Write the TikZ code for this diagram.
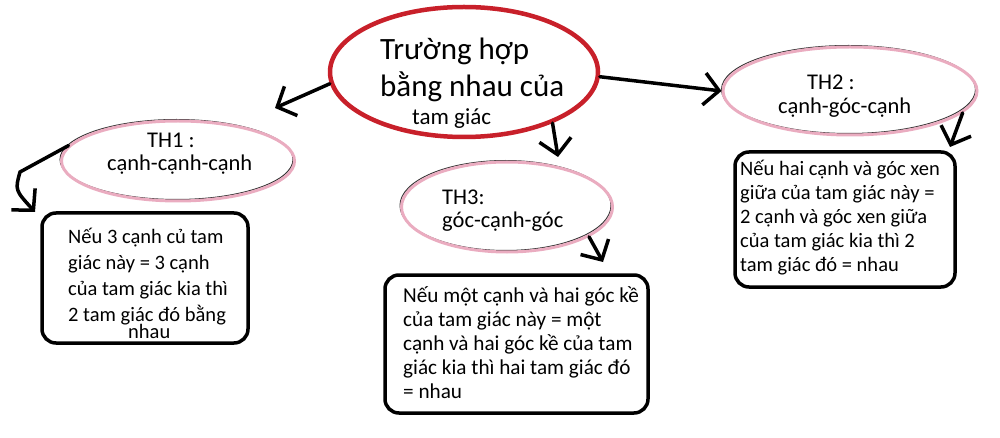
\documentclass[tikz,border=0pt]{standalone}
\usepackage{fontspec}
\setmainfont{Carlito}
\usetikzlibrary{arrows.meta,shapes.geometric}

\definecolor{mainred}{RGB}{200,32,42}
\definecolor{casepink}{RGB}{234,172,192}

\begin{document}
\begin{tikzpicture}[x=1pt,y=-1pt,line cap=round,
  arr/.style={line width=3.5pt,-{Straight Barb[length=15pt,width=32pt]}},
  oval/.style={ellipse,draw=casepink,line width=3pt,inner sep=0pt,
    preaction={draw=black!80,line width=1pt,transform canvas={shift={(-1.5pt,1.5pt)}}}},
  card/.style={draw,line width=3.5pt,rounded corners=14pt,inner sep=0pt},
  big/.style={font=\fontsize{31}{37}\selectfont,align=left,anchor=base west,inner sep=0pt},
  mid/.style={font=\fontsize{22.5}{27}\selectfont,anchor=base west,inner sep=0pt},
  small/.style={font=\fontsize{20.5}{24}\selectfont,align=left,anchor=base west,inner sep=0pt}]

  \useasboundingbox (0,0) rectangle (1000,438);

  % ovals
  \node[ellipse,draw=mainred,line width=4.5pt,minimum width=268pt,minimum height=130pt] (M) at (464,72) {};
  \node[oval,minimum width=233pt,minimum height=80pt] (T1) at (178,161) {};
  \node[oval,minimum width=254pt,minimum height=88pt] (T2) at (850,91) {};
  \node[oval,minimum width=211pt,minimum height=90pt] (T3) at (507,207) {};

  % cards
  \node[card,minimum width=206pt,minimum height=130pt] (B1) at (145,278) {};
  \node[card,minimum width=220pt,minimum height=135pt] (B2) at (845,219.5) {};
  \node[card,minimum width=263pt,minimum height=138pt] (B3) at (516.5,344) {};

  % texts (base = last line)
  \node[big] (M1) at (380,97) {Trường hợp\\bằng nhau của};
  \node[mid,font=\fontsize{23}{27}\selectfont] (M2) at (412,125) {tam giác};
  \node[mid] (T1a) at (147,148) {TH1 :};
  \node[mid] (T1b) at (107,171) {cạnh-cạnh-cạnh};
  \node[mid] (T2a) at (807,90) {TH2 :};
  \node[mid] (T2b) at (778,114) {cạnh-góc-cạnh};
  \node[mid] (T3a) at (442,205) {TH3:};
  \node[mid] (T3b) at (442,228) {góc-cạnh-góc};

  \node[small,font=\fontsize{20.5}{26}\selectfont] (B1a) at (68,321)
    {Nếu 3 cạnh củ tam\\giác này = 3 cạnh\\của tam giác kia thì\\2 tam giác đó bằng};
  \node[small] (B1b) at (128,338) {nhau};
  \node[small] (B2a) at (740,271)
    {Nếu hai cạnh và góc xen\\giữa của tam giác này =\\2 cạnh và góc xen giữa\\của tam giác kia thì 2\\tam giác đó = nhau};
  \node[small,font=\fontsize{21.2}{24}\selectfont] (B3a) at (403,398)
    {Nếu một cạnh và hai góc kề\\của tam giác này = một\\cạnh và hai góc kề của tam\\giác kia thì hai tam giác đó\\= nhau};

  % arrow ends
  \coordinate (H1) at (275,108);
  \coordinate (H3) at (558,157);
  \coordinate (K4) at (20,172);
  \coordinate (H4) at (35,212);
  \coordinate (H5) at (603,262);
  \coordinate (H6) at (950,147);

  \draw[arr] (M.185) -- (H1);
  \draw[arr] (M.-2) -- (T2.west);
  \draw[arr] (M.-30) -- (H3);
  \draw[arr] (T1.172) -- (K4) .. controls (15,190) .. (H4);
  \draw[arr] (T3.-20) -- (H5);
  \draw[arr] (T2.-11) -- (H6);

\end{tikzpicture}
\end{document}
